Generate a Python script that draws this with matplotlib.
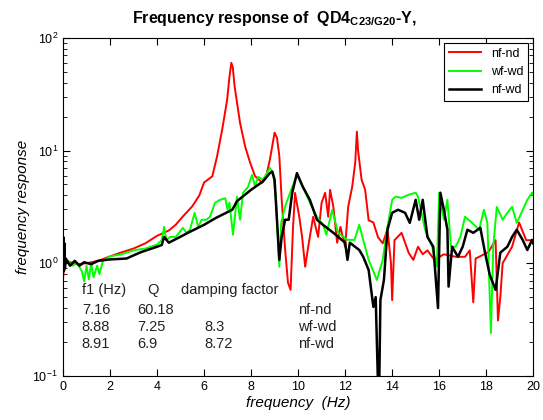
import matplotlib
matplotlib.use("Agg")
import matplotlib.pyplot as plt
from matplotlib.ticker import LogLocator, NullFormatter

plt.rcParams['font.family'] = ['Liberation Sans', 'DejaVu Sans']

# nf-nd (red)
f_red = [0.0, 0.05, 0.15, 0.3, 0.6, 1.0, 1.5, 2.0, 2.5, 3.0, 3.5, 4.0, 4.5, 4.8, 5.1,
         5.5, 5.8, 6.0, 6.35, 6.55, 6.77, 6.98, 7.08, 7.16, 7.22, 7.3, 7.53, 7.75, 7.96,
         8.17, 8.47, 8.65, 8.8, 9.0, 9.1, 9.2, 9.3, 9.45, 9.57, 9.68, 9.78, 9.87, 10.05,
         10.17, 10.3, 10.43, 10.64, 10.85, 11.0, 11.15, 11.28, 11.36, 11.5, 11.66, 11.8,
         12.0, 12.13, 12.3, 12.43, 12.5, 12.55, 12.7, 12.85, 13.0, 13.2, 13.4, 13.6, 13.8,
         13.95, 14.0, 14.1, 14.4, 14.7, 14.9, 15.1, 15.3, 15.5, 15.8, 16.2, 16.7, 17.1,
         17.3, 17.45, 17.55, 17.7, 18.1, 18.4, 18.5, 18.6, 18.7, 19.1, 19.4, 19.7, 20.0]
r_red = [0.72, 0.95, 1.05, 1.02, 0.98, 1.0, 1.05, 1.15, 1.25, 1.35, 1.5, 1.75, 1.95, 2.2, 2.6,
         3.2, 4.0, 5.2, 5.9, 8.8, 15.3, 28, 45, 60, 55, 37, 17.6, 10.8, 7.8,
         5.9, 5.2, 6.0, 8.3, 14.4, 13, 9.0, 3.7, 1.3, 0.67, 0.58, 2.0, 4.2, 2.58,
         1.71, 0.93, 1.4, 2.58, 1.71, 3.44, 4.22, 2.58, 4.48, 3.16, 1.52, 2.1,
         1.4, 3.16, 4.76, 7.8, 14.7, 10, 5.5, 4.5, 2.4, 2.3, 1.7, 1.5, 2.0,
         1.0, 0.47, 1.6, 1.86, 1.24, 1.07, 1.4, 1.2, 1.3, 1.07, 1.2, 1.14, 1.14,
         1.3, 0.45, 1.1, 1.14, 1.26, 1.6, 0.31, 0.5, 1.0, 1.4, 2.3, 1.6, 1.6]

# wf-wd (green)
f_green = [0.0, 0.2, 0.4, 0.6, 0.8, 0.9, 1.0, 1.1, 1.2, 1.3, 1.45, 1.55, 1.7, 2.0, 2.5,
           3.0, 3.5, 4.0, 4.2, 4.3, 4.4, 4.55, 4.8, 5.1, 5.25, 5.4, 5.6, 5.75, 5.9, 6.1,
           6.25, 6.47, 6.68, 6.9, 7.0, 7.08, 7.23, 7.4, 7.53, 7.66, 7.87, 8.04, 8.17, 8.3,
           8.5, 8.68, 8.8, 8.94, 9.06, 9.2, 9.28, 9.45, 9.66, 9.95, 10.2, 10.5, 10.8,
           11.06, 11.2, 11.45, 11.7, 12.1, 12.4, 12.6, 12.77, 13.0,
           13.35, 13.6, 13.8, 14.0, 14.15, 14.4, 14.7, 15.0, 15.1, 15.4, 15.7, 15.9, 16.0,
           16.2, 16.35, 16.5, 16.7, 16.9, 17.1, 17.4, 17.7, 17.9, 18.05, 18.2, 18.3, 18.45,
           18.7, 18.9, 19.1, 19.3, 19.5, 19.75, 19.95, 20.0]
r_green = [1.0, 1.05, 0.95, 1.0, 0.85, 0.69, 0.95, 0.72, 1.0, 0.75, 0.95, 0.8, 1.05, 1.15, 1.2,
           1.3, 1.35, 1.46, 1.6, 2.1, 1.6, 1.71, 1.71, 2.06, 1.86, 1.98, 2.8, 2.1, 2.43, 2.43,
           2.58, 3.44, 3.65, 3.77, 2.98, 3.44, 1.79, 3.88, 2.43, 4.22, 4.76, 6.08, 4.76, 5.85,
           5.5, 6.3, 7.0, 6.3, 3.65, 0.93, 2.28, 3.2, 4.22, 6.08, 4.76, 3.44, 2.58,
           2.19, 1.79, 2.98, 1.86, 1.61, 1.61, 2.19, 1.61, 1.07,
           0.71, 1.07, 2.1, 3.65, 3.9, 3.8, 4.05, 4.22, 3.9, 1.98, 1.4, 0.93, 4.22,
           2.43, 3.65, 1.4, 1.4, 1.71, 2.58, 2.28, 1.98, 2.98, 2.28, 0.24, 1.4, 3.16,
           2.43, 2.8, 3.16, 2.28, 2.8, 3.65, 4.22, 4.0]

# nf-wd (black)
f_black = [0.0, 0.02, 0.04, 0.06, 0.08, 0.12, 0.3, 0.5, 0.7, 0.9, 1.2, 1.5, 2.0, 2.7, 3.3,
           4.0, 4.2, 4.3, 4.5, 4.98, 5.4, 6.0, 6.5, 7.2, 7.4, 8.0, 8.5, 8.8, 8.9, 9.0,
           9.1, 9.2, 9.3, 9.45, 9.6, 9.75, 9.95, 10.2, 10.5, 10.8, 11.06, 11.5, 12.0, 12.1,
           12.2, 12.6, 12.77, 13.0, 13.2, 13.3, 13.4, 13.45, 13.5, 13.65, 13.8, 14.0, 14.25,
           14.55, 14.75, 15.0, 15.15, 15.3, 15.5, 15.75, 15.95, 16.05, 16.2, 16.35, 16.4,
           16.55, 16.8, 17.0, 17.2, 17.45, 17.75, 17.95, 18.15, 18.4, 18.6, 18.9, 19.1,
           19.3, 19.55, 19.75, 19.95, 20.0]
r_black = [1.0, 1.7, 0.85, 1.5, 0.9, 1.1, 0.95, 1.05, 0.95, 1.02, 0.98, 1.05, 1.08, 1.1, 1.25,
           1.4, 1.45, 1.71, 1.52, 1.71, 1.9, 2.19, 2.52, 2.98, 3.55, 4.48, 5.3, 6.3, 6.5, 5.5,
           2.43, 1.07, 1.71, 2.43, 2.43, 4.22, 6.3, 4.76, 3.65, 2.43, 2.19, 1.86, 1.52, 1.07,
           1.52, 1.31, 1.14, 0.87, 0.41, 0.5, 0.08, 0.08, 0.47, 0.71, 1.98, 2.8, 2.98,
           2.8, 2.28, 3.65, 2.43, 3.65, 1.71, 1.4, 0.4, 4.22, 2.98, 1.98, 0.62,
           1.4, 1.14, 1.4, 1.98, 1.86, 2.06, 1.24, 0.79, 0.58, 1.24, 1.4, 1.71,
           1.98, 1.61, 1.31, 1.61, 1.5]

table_rows = [
    ("f1 (Hz)", "Q", "damping factor", ""),
    ("7.16", "60.18", "", "nf-nd"),
    ("8.88", "7.25", "8.3", "wf-wd"),
    ("8.91", "6.9", "8.72", "nf-wd"),
]
row_y = [0.58, 0.385, 0.27, 0.19]

fig = plt.figure(figsize=(5.43, 4.2), dpi=100)
ax = fig.add_axes([0.116, 0.105, 0.866, 0.805])

ax.semilogy(f_red, r_red, color='#ff0000', lw=1.4, label='nf-nd')
ax.semilogy(f_green, r_green, color='#00ff00', lw=1.4, label='wf-wd')
ax.semilogy(f_black, r_black, color='black', lw=1.8, label='nf-wd')

ax.set_xlim(0, 20)
ax.set_ylim(0.1, 100)
ax.set_xticks(range(0, 21, 2))
ax.yaxis.set_minor_locator(LogLocator(base=10, subs=range(2, 10)))
ax.yaxis.set_minor_formatter(NullFormatter())
ax.tick_params(which='both', direction='in', top=True, right=True, labelsize=9)
ax.tick_params(which='major', length=5)
ax.tick_params(which='minor', length=3)

ax.set_xlabel('frequency  (Hz)', style='italic', fontsize=11, labelpad=2)
ax.set_ylabel('frequency response', style='italic', fontsize=11, labelpad=2)
fig.text(0.506, 0.955, 'Frequency response of  QD4$_{\\mathregular{C23/G20}}$-Y,',
         ha='center', va='center', fontsize=11.5, fontweight='bold')

col_x = [0.8, 3.15, 5.0, 10.0]
for y, row in zip(row_y, table_rows):
    for i, (x, s) in enumerate(zip(col_x, row)):
        if i == 1 and y == row_y[0]:
            x = 3.6
        if i == 2 and y != row_y[0]:
            x = 6.0
        ax.text(x, y, s, fontsize=10.5, color='#222222', va='center')

leg = ax.legend(loc='upper right', fontsize=9, fancybox=False, framealpha=1,
                edgecolor='black', borderaxespad=0.4, handlelength=2.5)
leg.get_frame().set_linewidth(0.8)

fig.savefig('out.png', dpi=100)
